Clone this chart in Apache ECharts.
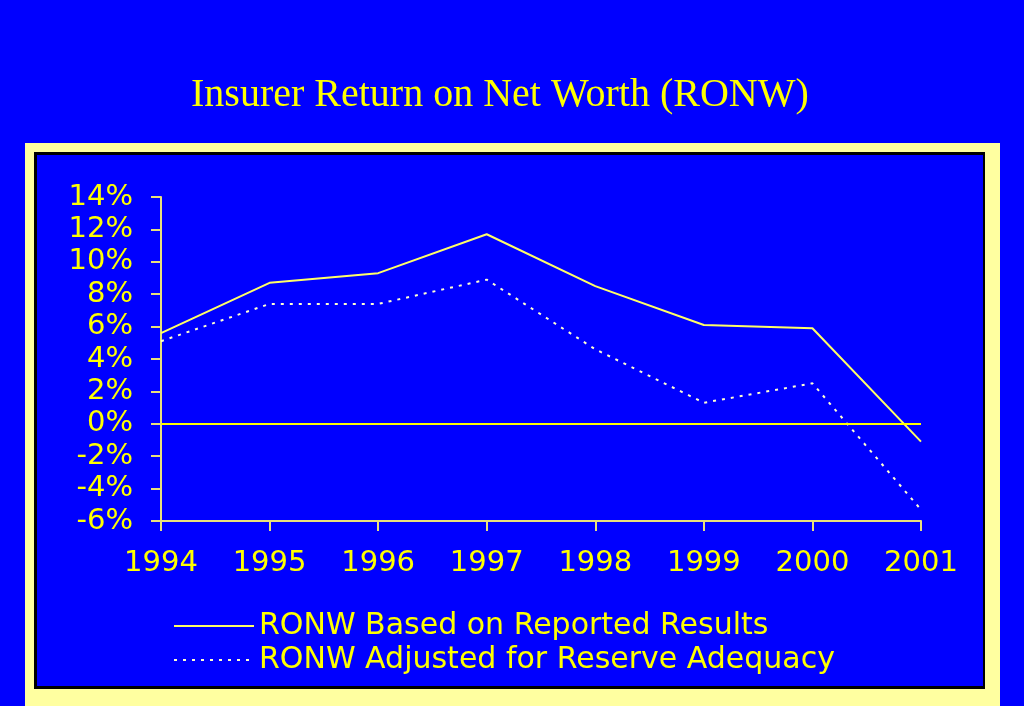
<!DOCTYPE html>
<html>
<head>
<meta charset="utf-8">
<script src="https://cdn.jsdelivr.net/npm/echarts@6/dist/echarts.min.js"></script>
<style>
  html, body { margin: 0; padding: 0; background: #0000ff; }
  #chart { width: 1024px; height: 706px; }
</style>
</head>
<body>
<div id="chart"></div>
<script>
const years = ['1994', '1995', '1996', '1997', '1998', '1999', '2000', '2001'];
const reported = [5.6, 8.7, 9.3, 11.7, 8.5, 6.1, 5.9, -1.1];
const adjusted = [5.1, 7.4, 7.4, 8.9, 4.6, 1.3, 2.5, -5.3];
const seriesNames = ['RONW Based on Reported Results', 'RONW Adjusted for Reserve Adequacy'];

const chart = echarts.init(document.getElementById('chart'));

const yellow = '#ffff00';
const axisYellow = '#e8e07a';
const labelFont = 'DejaVu Sans';

const option = {
  backgroundColor: '#0000ff',
  animation: false,
  title: {
    text: 'Insurer Return on Net Worth (RONW)',
    left: 186,
    top: 70,
    textStyle: {
      color: yellow,
      fontFamily: 'Liberation Serif',
      fontWeight: 'normal',
      fontSize: 40
    }
  },
  // panel frame: pale yellow band, black line, blue inside
  graphic: {
    elements: [
      { type: 'rect', z: -10, shape: { x: 25, y: 143, width: 975, height: 600 }, style: { fill: '#ffffa0' } },
      { type: 'rect', z: -9, shape: { x: 34, y: 152, width: 951, height: 537 }, style: { fill: '#000000' } },
      { type: 'rect', z: -8, shape: { x: 37, y: 155, width: 946, height: 531 }, style: { fill: '#0000ff' } }
    ]
  },
  grid: {
    left: 161,
    right: 103,
    top: 197,
    bottom: 185
  },
  legend: {
    data: seriesNames,
    orient: 'vertical',
    left: 168,
    top: 606,
    itemWidth: 80,
    itemHeight: 14,
    itemGap: 4,
    itemStyle: { opacity: 0 },
    textStyle: { color: yellow, fontFamily: labelFont, fontSize: 30 }
  },
  xAxis: {
    type: 'category',
    data: years,
    boundaryGap: false,
    axisLine: { onZero: false, lineStyle: { color: axisYellow, width: 2 } },
    axisTick: { alignWithLabel: true, length: 10, lineStyle: { color: axisYellow, width: 2 } },
    axisLabel: { color: yellow, fontFamily: labelFont, fontSize: 29, margin: 28 }
  },
  yAxis: {
    type: 'value',
    min: -6,
    max: 14,
    interval: 2,
    axisLine: { show: true, lineStyle: { color: axisYellow, width: 2 } },
    axisTick: { show: true, length: 10, lineStyle: { color: axisYellow, width: 2 } },
    splitLine: { show: false },
    axisLabel: {
      color: yellow,
      fontFamily: labelFont,
      fontSize: 29,
      margin: 28,
      padding: [6, 0, 0, 0],
      formatter: '{value}%'
    }
  },
  series: [
    {
      name: seriesNames[0],
      type: 'line',
      data: reported,
      symbol: 'none',
      color: '#ffff66',
      lineStyle: { color: '#ffff66', width: 2 },
      markLine: {
        silent: true,
        symbol: 'none',
        label: { show: false },
        lineStyle: { color: yellow, type: 'solid', width: 2 },
        data: [{ yAxis: 0 }]
      }
    },
    {
      name: seriesNames[1],
      type: 'line',
      data: adjusted,
      symbol: 'none',
      color: '#ffffd0',
      lineStyle: { color: '#ffffd0', width: 2, type: [3, 6] }
    }
  ]
};

chart.setOption(option);
</script>
</body>
</html>
